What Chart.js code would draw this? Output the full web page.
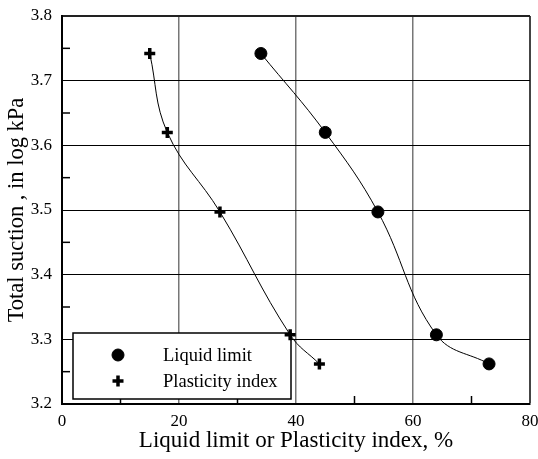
<!DOCTYPE html>
<html>
<head>
<meta charset="utf-8">
<script src="https://cdn.jsdelivr.net/npm/chart.js@4.4.1/dist/chart.umd.min.js"></script>
<style>
  body { margin: 0; background: #fff; }
  #wrap { width: 538px; height: 459px; }
</style>
</head>
<body>
<div id="wrap"><canvas id="chart"></canvas></div>
<script>
// values
const suction = [3.742, 3.62, 3.497, 3.307, 3.262];
const liquidLimit = [34, 45, 54, 64, 73];
const plasticityIndex = [15, 18, 27, 39, 44];
const seriesNames = ["Liquid limit", "Plasticity index"];
const xMinorTicks = [10, 30, 50, 70];
const yMinorTicks = [3.25, 3.35, 3.45, 3.55, 3.65, 3.75];

const serif = "'Liberation Serif', 'Times New Roman', serif";

function toPoints(xs, ys) {
  return xs.map(function (x, i) { return { x: x, y: ys[i] }; });
}

// minor ticks pointing into the plot + legend box inside the plot
const extras = {
  id: "extras",
  beforeDatasetsDraw: function (chart) {
    const c = chart.ctx;
    const area = chart.chartArea;
    const xs = chart.scales.x;
    const ys = chart.scales.y;
    c.save();
    c.strokeStyle = "#000";
    c.lineWidth = 1.5;
    xMinorTicks.forEach(function (v) {
      const px = xs.getPixelForValue(v);
      c.beginPath();
      c.moveTo(px, area.bottom);
      c.lineTo(px, area.bottom - 8);
      c.stroke();
    });
    yMinorTicks.forEach(function (v) {
      const py = ys.getPixelForValue(v);
      c.beginPath();
      c.moveTo(area.left, py);
      c.lineTo(area.left + 8, py);
      c.stroke();
    });

    // legend
    const bx = area.left + 11, by = area.bottom - 71, bw = 218, bh = 66;
    c.fillStyle = "#fff";
    c.fillRect(bx, by, bw, bh);
    c.lineWidth = 1.5;
    c.strokeRect(bx, by, bw, bh);
    c.font = "18.5px " + serif;
    c.textBaseline = "middle";
    chart.data.datasets.forEach(function (ds, i) {
      const cy = by + 22 + i * 26;
      c.fillStyle = "#000";
      c.strokeStyle = "#000";
      c.lineWidth = ds.pointBorderWidth;
      Chart.helpers.drawPoint(c, {
        pointStyle: ds.pointStyle,
        radius: ds.pointRadius,
        borderWidth: ds.pointBorderWidth
      }, bx + 45, cy);
      c.fillText(ds.label, bx + 90, cy + 1);
    });
    c.restore();
  }
};

new Chart(document.getElementById("chart"), {
  type: "line",
  data: {
    datasets: [
      {
        label: seriesNames[0],
        data: toPoints(liquidLimit, suction),
        borderColor: "#000",
        borderWidth: 1,
        backgroundColor: "#000",
        pointBackgroundColor: "#000",
        pointBorderColor: "#000",
        pointStyle: "circle",
        pointRadius: 6,
        pointBorderWidth: 1,
        tension: 0.4
      },
      {
        label: seriesNames[1],
        data: toPoints(plasticityIndex, suction),
        borderColor: "#000",
        borderWidth: 1,
        backgroundColor: "#000",
        pointBorderColor: "#000",
        pointStyle: "cross",
        pointRadius: 5.5,
        pointBorderWidth: 3.5,
        tension: 0.4
      }
    ]
  },
  options: {
    responsive: true,
    maintainAspectRatio: false,
    animation: false,
    layout: { autoPadding: false, padding: { top: 16, right: 8, left: 0, bottom: 0 } },
    plugins: {
      legend: { display: false },
      tooltip: { enabled: false }
    },
    scales: {
      x: {
        type: "linear",
        min: 0,
        max: 80,
        afterFit: function (s) {
          s.height = 55;
          s.paddingLeft = 0;
          s.paddingRight = 0;
        },
        ticks: {
          stepSize: 20,
          padding: 7,
          color: "#000",
          font: { family: serif, size: 17 }
        },
        grid: {
          drawTicks: false,
          color: function (ctx) { return ctx.tick && ctx.tick.value === 80 ? "#444" : "#777"; },
          lineWidth: function (ctx) { return ctx.tick && ctx.tick.value === 80 ? 2 : 1.5; }
        },
        border: { color: "#000", width: 2 },
        title: {
          display: true,
          text: "Liquid limit or Plasticity index, %",
          color: "#000",
          font: { family: serif, size: 23 },
          padding: { top: 0, bottom: 4 }
        }
      },
      y: {
        min: 3.2,
        max: 3.8,
        afterFit: function (s) {
          s.width = 62;
          s.paddingTop = 0;
          s.paddingBottom = 0;
        },
        ticks: {
          stepSize: 0.1,
          padding: 10,
          color: "#000",
          font: { family: serif, size: 17 },
          callback: function (v) { return v.toFixed(1); }
        },
        grid: {
          drawTicks: false,
          color: function (ctx) { return ctx.tick && ctx.tick.value > 3.79 ? "#222" : "#000"; },
          lineWidth: function (ctx) { return ctx.tick && ctx.tick.value > 3.79 ? 2 : 1; }
        },
        border: { color: "#000", width: 2 },
        title: {
          display: true,
          text: "Total suction , in log kPa",
          color: "#000",
          font: { family: serif, size: 22.5 },
          padding: { top: 4, bottom: 0 }
        }
      }
    }
  },
  plugins: [extras]
});
</script>
</body>
</html>
